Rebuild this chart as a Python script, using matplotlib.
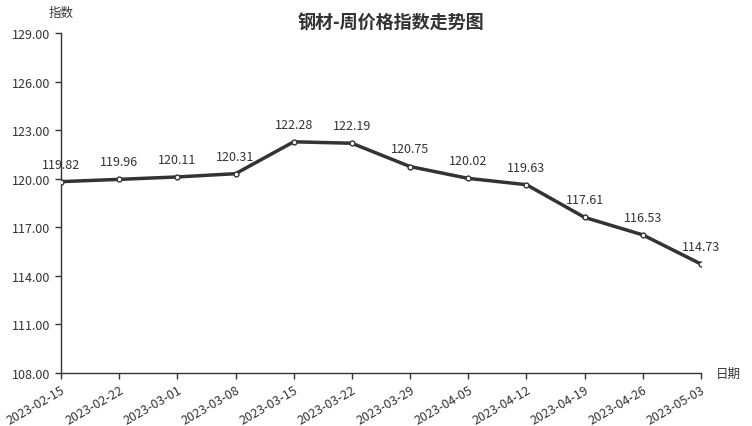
import matplotlib.pyplot as plt

plt.rcParams['font.family'] = ['Noto Sans CJK SC', 'DejaVu Sans']

dates = ['2023-02-15', '2023-02-22', '2023-03-01', '2023-03-08', '2023-03-15', '2023-03-22',
         '2023-03-29', '2023-04-05', '2023-04-12', '2023-04-19', '2023-04-26', '2023-05-03']
values = [119.82, 119.96, 120.11, 120.31, 122.28, 122.19,
          120.75, 120.02, 119.63, 117.61, 116.53, 114.73]
yticks = [108, 111, 114, 117, 120, 123, 126, 129]

fig = plt.figure(figsize=(7.52, 4.27), dpi=100)
ax = fig.add_axes([61 / 752, 1 - 374 / 427, 640 / 752, 340 / 427])

x = list(range(len(dates)))
ax.plot(x, values, color='#333333', lw=2.5, marker='o', ms=3.5,
        mfc='white', mec='#333333', mew=1, zorder=3)
for xi, v in zip(x, values):
    ax.annotate(f'{v:.2f}', (xi, v), xytext=(0, 8), textcoords='offset points',
                ha='center', va='bottom', fontsize=9, color='#333333')

ax.set_xlim(0, len(dates) - 1)
ax.set_ylim(108, 129)
ax.set_xticks(x)
ax.set_xticklabels(dates, rotation=30, ha='right', rotation_mode='anchor', fontsize=9, color='#333333')
ax.set_yticks(yticks)
ax.set_yticklabels([f'{t:.2f}' for t in yticks], fontsize=9, color='#333333')
ax.tick_params(length=4, color='#333333', width=1)

for s in ['top', 'right']:
    ax.spines[s].set_visible(False)
for s in ['left', 'bottom']:
    ax.spines[s].set_color('#333333')
    ax.spines[s].set_linewidth(1)

fig.text(61 / 752, 1 - 13 / 427, '指数', ha='center', va='center', fontsize=9, color='#333333')
fig.text(716 / 752, 1 - 374 / 427, '日期', ha='left', va='center', fontsize=9, color='#333333')
fig.text(391 / 752, 1 - 23 / 427, '钢材-周价格指数走势图', ha='center', va='center',
         fontsize=13, fontweight='bold', color='#333333')

fig.savefig('out.png', dpi=100)
